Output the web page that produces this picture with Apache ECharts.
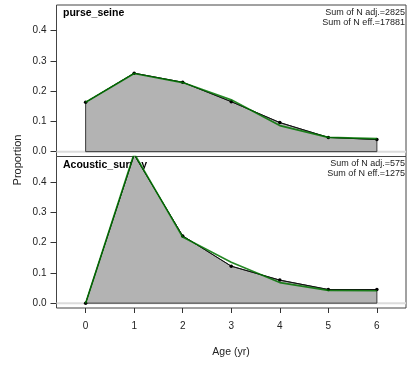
<!DOCTYPE html>
<html>
<head>
<meta charset="utf-8">
<script src="https://cdn.jsdelivr.net/npm/echarts@6/dist/echarts.min.js"></script>
<style>
html,body{margin:0;padding:0;background:#fff;}
#chart{width:408px;height:366px;}
</style>
</head>
<body>
<div id="chart"></div>
<script>
var ages = [0, 1, 2, 3, 4, 5, 6];
var yTicks = [0.0, 0.1, 0.2, 0.3, 0.4];
var panelNames = ['purse_seine', 'Acoustic_survey'];
var purseObs = [0.163, 0.259, 0.229, 0.165, 0.096, 0.047, 0.040];
var purseExp = [0.163, 0.258, 0.228, 0.171, 0.086, 0.047, 0.043];
var acousticObs = [0.0, 0.49, 0.222, 0.122, 0.076, 0.045, 0.045];
var acousticExp = [0.0, 0.494, 0.218, 0.135, 0.068, 0.042, 0.041];
var sumAdj = [2825, 575];
var sumEff = [17881, 1275];

var FONT = '"Liberation Sans", Arial, sans-serif';
var chart = echarts.init(document.getElementById('chart'), null, {renderer: 'canvas'});

var gridLeft = 56.5, gridWidth = 349.5;
var tops = [5, 156.5], panelH = 151.5;
var obsList = [purseObs, acousticObs];
var expList = [purseExp, acousticExp];

function polygon(vals) {
  var d = [[ages[0], 0]];
  for (var i = 0; i < ages.length; i++) d.push([ages[i], vals[i]]);
  d.push([ages[ages.length - 1], 0]);
  d.push([ages[0], 0]);
  return d;
}
function pts(vals) {
  return ages.map(function (a, i) { return [a, vals[i]]; });
}

var grids = [], xAxes = [], yAxes = [], series = [], graphics = [];
for (var p = 0; p < 2; p++) {
  grids.push({left: gridLeft, top: tops[p], width: gridWidth, height: panelH,
    show: true, borderColor: '#444', borderWidth: 1, backgroundColor: 'transparent'});
  xAxes.push({
    type: 'value', gridIndex: p, min: -0.6, max: 6.6, position: 'bottom',
    axisLine: {show: false, onZero: false}, splitLine: {show: false},
    axisTick: {show: p === 1, customValues: ages, length: 5, lineStyle: {color: '#333'}},
    axisLabel: {show: p === 1, customValues: ages, margin: 13, fontSize: 10, color: '#222', fontFamily: FONT}
  });
  yAxes.push({
    type: 'value', gridIndex: p, min: -0.016, max: 0.484, position: 'left',
    axisLine: {show: false, onZero: false}, splitLine: {show: false},
    axisTick: {show: true, customValues: yTicks, length: 6, lineStyle: {color: '#333'}},
    axisLabel: {show: true, customValues: yTicks, margin: 10, fontSize: 10, color: '#222', fontFamily: FONT,
      formatter: function (v) { return v.toFixed(1); }}
  });
  series.push({
    type: 'line', xAxisIndex: p, yAxisIndex: p, z: 1,
    data: [[-0.6, 0], [6.6, 0]], showSymbol: false, silent: true,
    lineStyle: {color: '#dcdcdc', width: 2}
  });
  series.push({
    type: 'line', xAxisIndex: p, yAxisIndex: p, z: 2,
    data: polygon(obsList[p]), showSymbol: false, silent: true,
    lineStyle: {color: '#3a3a3a', width: 1},
    areaStyle: {color: '#b3b3b3', opacity: 1, origin: 0}
  });
  series.push({
    type: 'line', xAxisIndex: p, yAxisIndex: p, z: 3,
    data: pts(obsList[p]), symbol: 'circle', symbolSize: 3.5, showSymbol: true,
    itemStyle: {color: '#000'}, lineStyle: {color: '#111', width: 1}
  });
  series.push({
    type: 'line', xAxisIndex: p, yAxisIndex: p, z: 4,
    data: pts(expList[p]), showSymbol: false,
    lineStyle: {color: 'rgba(0,115,0,0.85)', width: 1.7}
  });
  graphics.push({type: 'text', left: 63, top: tops[p] + 3,
    style: {text: panelNames[p], font: 'bold 10.5px ' + FONT, fill: '#000'}});
  graphics.push({type: 'text', right: 3, top: tops[p] + 3,
    style: {text: 'Sum of N adj.=' + sumAdj[p], font: '9px ' + FONT, fill: '#222', textAlign: 'right'}});
  graphics.push({type: 'text', right: 3, top: tops[p] + 13,
    style: {text: 'Sum of N eff.=' + sumEff[p], font: '9px ' + FONT, fill: '#222', textAlign: 'right'}});
}
graphics.push({type: 'text', x: 231, y: 352,
  style: {text: 'Age (yr)', font: '10.5px ' + FONT, fill: '#222', align: 'center', verticalAlign: 'middle'}});
graphics.push({type: 'text', x: 18, y: 160, rotation: Math.PI / 2,
  style: {text: 'Proportion', font: '11px ' + FONT, fill: '#222', align: 'center', verticalAlign: 'middle'}});

chart.setOption({
  animation: false,
  backgroundColor: '#fff',
  grid: grids, xAxis: xAxes, yAxis: yAxes, series: series, graphic: graphics
});
</script>
</body>
</html>
